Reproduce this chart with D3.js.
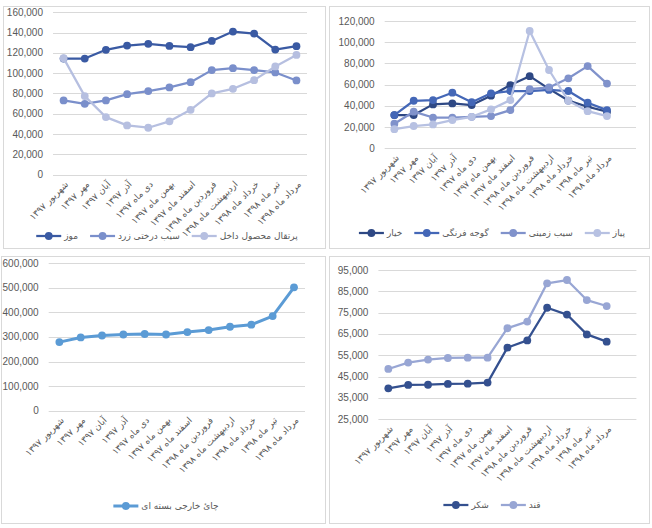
<!DOCTYPE html>
<html>
<head>
<meta charset="utf-8">
<script src="https://cdn.jsdelivr.net/npm/d3@7"></script>
<style>
    body { margin: 0; background: #fff; }
    text { font-family: "Liberation Sans", "DejaVu Sans", sans-serif; fill: #595959; }
    .fa { font-family: "DejaVu Sans", sans-serif; }
</style>
</head>
<body>
<div id="chart"></div>
<script>
var months = ["شهریور  ۱۳۹۷", "مهر ۱۳۹۷", "آبان ۱۳۹۷", "آذر ۱۳۹۷", "دی ماه ۱۳۹۷", "بهمن ماه ۱۳۹۷",
    "اسفند ماه ۱۳۹۷", "فروردین ماه ۱۳۹۸", "اردیبهشت ماه ۱۳۹۸", "خرداد ماه ۱۳۹۸", "تیر  ماه ۱۳۹۸", "مرداد ماه ۱۳۹۸"];

// fruit
var mooz = [114400, 114400, 123000, 127200, 128900, 126900, 125600, 131800, 141000, 139000, 123300, 126600];
var sibDerakhti = [73100, 69800, 73100, 79300, 82300, 85900, 91100, 103000, 104900, 103000, 100700, 92800];
var porteghal = [114800, 77400, 56700, 48500, 46200, 52500, 63900, 80000, 84600, 93100, 106600, 118000];

// vegetables
var khiar = [31300, 31300, 41400, 42300, 40800, 49600, 59600, 68000, 56000, 45000, 39200, 34500];
var gojeh = [31300, 44800, 45500, 52400, 43500, 51800, 54000, 54000, 55000, 54000, 43000, 36000];
var sibZamini = [23200, 34500, 29000, 29000, 29700, 30400, 36000, 55800, 57400, 66000, 77500, 61000];
var piaz = [18000, 21000, 22500, 26600, 29700, 36700, 45500, 110600, 73800, 44800, 35000, 30400];

// tea
var chai = [279000, 298000, 306000, 310000, 312000, 310000, 320000, 328000, 341500, 350000, 385000, 502000];

// sugar
var shekar = [39500, 41100, 41200, 41600, 41700, 42200, 58600, 62000, 77300, 74100, 64800, 61400];
var ghand = [48600, 51600, 53000, 53750, 53900, 53900, 67700, 70800, 88750, 90300, 80900, 78100];

var svg = d3.select("#chart").append("svg")
    .attr("width", 652)
    .attr("height", 528);

var drawPanel = function (p) {
    var g = svg.append("g");

    //panel frame
    g.append("rect")
        .attr("x", p.box[0] + 0.5).attr("y", p.box[1] + 0.5)
        .attr("width", p.box[2]).attr("height", p.box[3])
        .attr("fill", "#fff").attr("stroke", "#d9d9d9");

    var x = d3.scalePoint()
        .domain(months)
        .range([p.left + p.band / 2, p.left + p.band * (months.length - 0.5)]);
    var y = d3.scaleLinear().domain(p.yDomain).range([p.bottom, p.top]);

    //grid + y labels
    var ticks = d3.range(p.yDomain[0], p.yDomain[1] + 1, p.step);
    g.selectAll(".grid").data(ticks).enter().append("line")
        .attr("x1", p.left).attr("x2", p.right)
        .attr("y1", function (d) { return Math.round(y(d)) + 0.5; })
        .attr("y2", function (d) { return Math.round(y(d)) + 0.5; })
        .attr("stroke", "#d9d9d9");
    g.selectAll(".ylab").data(ticks).enter().append("text")
        .attr("x", p.left - 10)
        .attr("y", function (d) { return y(d); })
        .attr("dy", "0.35em")
        .attr("text-anchor", "end")
        .attr("font-size", 10)
        .text(d3.format(","));

    //x labels
    g.selectAll(".xlab").data(months).enter().append("text")
        .attr("class", "fa")
        .attr("font-size", 9)
        .attr("text-anchor", "end")
        .attr("dy", "0.35em")
        .attr("transform", function (d) { return "translate(" + (x(d) + 3) + "," + (p.bottom + 8) + ") rotate(-45)"; })
        .text(function (d) { return d; });

    //series
    var line = d3.line()
        .x(function (d, i) { return x(months[i]); })
        .y(function (d) { return y(d); });
    p.series.forEach(function (s) {
        g.append("path")
            .attr("d", line(s.values))
            .attr("fill", "none")
            .attr("stroke", s.color)
            .attr("stroke-width", p.lineWidth)
            .attr("stroke-linejoin", "round");
        g.selectAll(null).data(s.values).enter().append("circle")
            .attr("cx", function (d, i) { return x(months[i]); })
            .attr("cy", function (d) { return y(d); })
            .attr("r", p.r)
            .attr("fill", s.color);
    });

    //legend
    var leg = g.append("g");
    var cx = 0;
    p.series.forEach(function (s) {
        var item = leg.append("g").attr("transform", "translate(" + cx + ",0)");
        item.append("line").attr("x1", 0).attr("x2", 25).attr("y1", 0).attr("y2", 0)
            .attr("stroke", s.color).attr("stroke-width", p.lineWidth);
        item.append("circle").attr("cx", 12.5).attr("cy", 0).attr("r", p.r).attr("fill", s.color);
        var t = item.append("text").attr("class", "fa")
            .attr("x", 28).attr("dy", "0.35em")
            .attr("font-size", 9)
            .text(s.name);
        cx += 28 + t.node().getComputedTextLength() + 12;
    });
    var w = cx - 12;
    leg.attr("transform", "translate(" + (p.box[0] + p.box[2] / 2 + 3 - w / 2) + "," + p.legendY + ")");
}

drawPanel({
    box: [3, 6, 322, 242], left: 53, right: 307, band: 21.17, top: 12.3, bottom: 174.6,
    yDomain: [0, 160000], step: 20000, legendY: 236, lineWidth: 2.25, r: 3.9,
    series: [
        { name: "موز", values: mooz, color: "#3a5aa3" },
        { name: "سیب درختی زرد", values: sibDerakhti, color: "#7a8fcb" },
        { name: "پرتقال محصول داخل", values: porteghal, color: "#b6bfe0" }
    ]
});

drawPanel({
    box: [329, 6, 320, 242], left: 384.7, right: 636, band: 19.33, top: 21, bottom: 148.3,
    yDomain: [0, 120000], step: 20000, legendY: 233, lineWidth: 2.25, r: 3.9,
    series: [
        { name: "خیار", values: khiar, color: "#2e4884" },
        { name: "گوجه فرنگی", values: gojeh, color: "#4467b7" },
        { name: "سیب زمینی", values: sibZamini, color: "#8092cb" },
        { name: "پیاز", values: piaz, color: "#b7c1e2" }
    ]
});

drawPanel({
    box: [1, 256, 324, 267], left: 48.7, right: 305, band: 21.33, top: 263.3, bottom: 410.6,
    yDomain: [0, 600000], step: 100000, legendY: 506, lineWidth: 3, r: 3.9,
    series: [
        { name: "چایٔ خارجی بسته ای", values: chai, color: "#5b9bd5" }
    ]
});

drawPanel({
    box: [329, 256, 320, 267], left: 378.4, right: 636.4, band: 19.85, top: 270, bottom: 419.3,
    yDomain: [25000, 95000], step: 10000, legendY: 505, lineWidth: 2.25, r: 3.9,
    series: [
        { name: "شکر", values: shekar, color: "#34508f" },
        { name: "قند", values: ghand, color: "#98a6d4" }
    ]
});
</script>
</body>
</html>
